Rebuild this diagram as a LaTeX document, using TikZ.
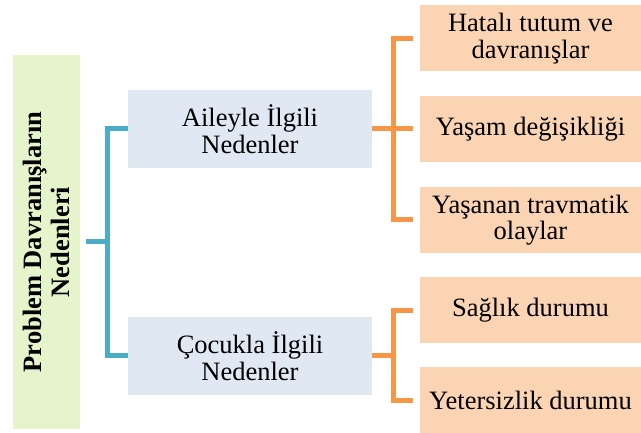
\documentclass[tikz,border=0pt]{standalone}
\usepackage{fontspec}
\setmainfont{Liberation Serif}
\usepackage{xcolor}
\usetikzlibrary{positioning, calc}
\definecolor{rootgreen}{HTML}{E5F4CA}
\definecolor{midblue}{HTML}{DFE8F3}
\definecolor{leaforange}{HTML}{FBD4B4}
\definecolor{linkblue}{HTML}{4BACC6}
\definecolor{linkorange}{HTML}{F79646}
\tikzset{
    rootbox/.style={fill=rootgreen, rotate=90, minimum width=374pt, minimum height=67pt,
          inner sep=0pt, align=center, font=\fontsize{26.5}{28}\selectfont\bfseries},
    midbox/.style={fill=midblue, minimum width=244pt, minimum height=78pt,
          inner sep=0pt, align=center, font=\fontsize{26.5}{26.5}\selectfont},
    leafbox/.style={fill=leaforange, minimum width=221pt, minimum height=66pt,
          inner sep=0pt, align=center, font=\fontsize{26.5}{26.5}\selectfont},
    bluelink/.style={draw=linkblue, line width=5pt},
    orangelink/.style={draw=linkorange, line width=5pt}
}

\begin{document}
\begin{tikzpicture}[x=1pt, y=-1pt]
    \useasboundingbox (0,0) rectangle (641,433);
    \node[rootbox] (root) at (46.5,242) {Problem Davranışların\\Nedenleri};
    \node[midbox] (aile) at (250,129) {Aileyle İlgili\\Nedenler};
    \node[midbox] (cocuk) at (250,356) {Çocukla İlgili\\Nedenler};
    \node[leafbox] (hatali) at (530.5,38.5) {Hatalı tutum ve\\davranışlar};
    \node[leafbox] (yasam) at (530.5,129) {Yaşam değişikliği};
    \node[leafbox] (travma) at (530.5,220) {Yaşanan travmatik\\olaylar};
    \node[leafbox] (saglik) at (530.5,310.5) {Sağlık durumu};
    \node[leafbox] (yeter) at (530.5,400.5) {Yetersizlik durumu};
    \coordinate (bj) at (107,242);
    \coordinate (oja) at (393,129);
    \coordinate (ojc) at (393,356);
    \draw[bluelink] ([xshift=6pt]root.south) -- (bj);
    \draw[bluelink] (aile.west) -- (aile.west -| bj) -- (cocuk.west -| bj) -- (cocuk.west);
    \draw[orangelink] (aile.east) -- ([xshift=-7pt]yasam.west);
    \draw[orangelink] ([xshift=-7pt]hatali.west) -- (hatali.west -| oja)
          -- (travma.west -| oja) -- ([xshift=-7pt]travma.west);
    \draw[orangelink] (cocuk.east) -- (ojc);
    \draw[orangelink] ([xshift=-7pt]saglik.west) -- (saglik.west -| ojc)
          -- (yeter.west -| ojc) -- ([xshift=-7pt]yeter.west);
\end{tikzpicture}
\end{document}
